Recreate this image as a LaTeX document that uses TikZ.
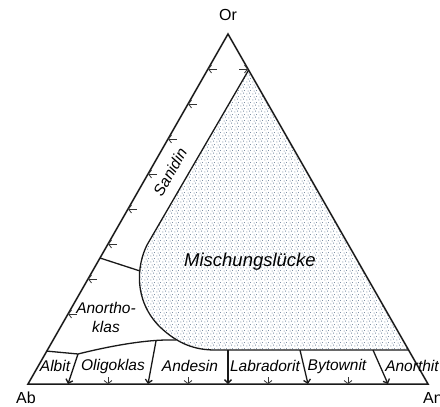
\documentclass[tikz,border=0pt]{standalone}
\usepackage{fontspec}
\setmainfont{Liberation Sans}
\usepackage{xcolor}
\usepackage{tikz}
\usetikzlibrary{arrows.meta,patterns.meta,calc}

\definecolor{dotc}{RGB}{80,105,135}

\tikzdeclarepattern{
  name=stipple,
  type=uncolored,
  bounding box={(0pt,0pt) and (6pt,6pt)},
  tile size={(6pt,6pt)},
  code={
    \pgfpathcircle{\pgfpoint{1pt}{1.2pt}}{0.6pt}
    \pgfpathcircle{\pgfpoint{4.1pt}{2.3pt}}{0.6pt}
    \pgfpathcircle{\pgfpoint{2.4pt}{4.6pt}}{0.6pt}
    \pgfpathcircle{\pgfpoint{5.2pt}{5.3pt}}{0.5pt}
    \pgfusepath{fill}
  }}

\begin{document}
\begin{tikzpicture}[
  x=1pt, y=-1pt,
  side/.style={line width=1.5pt, line join=miter, draw=black!90},
  ln/.style={line width=1.3pt, draw=black!90},
  sep/.style={ln, -{Straight Barb[length=3.5pt,width=7pt]}},
  tk/.style={line width=0.8pt, draw=black!80, -{Straight Barb[length=3pt,width=8pt]}},
  gap/.style={pattern=stipple, pattern color=dotc},
  lbl/.style={font=\fontsize{15.5}{19}\selectfont\itshape, inner sep=1pt, align=center},
  crn/.style={font=\fontsize{16}{18}\selectfont, inner sep=1pt}]

\useasboundingbox (0,0) rectangle (440,407);

% corners of the triangle
\coordinate (Ab) at (28,384);
\coordinate (An) at (428,384);
\coordinate (Or) at (228,34);

% miscibility gap
\coordinate (g1) at ($(Or)!0.103!(An)$);
\coordinate (g2) at (147,245);
\coordinate (g3) at (160,327);
\coordinate (g4) at (215,350);
\coordinate (g5) at ($(Or)!0.903!(An)$);

\fill[gap] (g1) -- (g2) .. controls (137,265) and (133,300) .. (g3)
  .. controls (178,344) and (195,350) .. (g4) -- (g5) -- cycle;
\draw[ln] (g1) -- (g2) .. controls (137,265) and (133,300) .. (g3)
  .. controls (178,344) and (195,350) .. (g4) -- (g5);

\draw[side] (Ab) -- (Or) -- (An) -- cycle;

% field boundaries
\coordinate (s1) at ($(Or)!0.64!(Ab)$);
\coordinate (s2) at (140,271);
\draw[ln] (s1) -- (s2);
\coordinate (k1) at ($(Or)!0.906!(Ab)$);
\coordinate (k2) at (78,354);
\coordinate (k3) at (176,340);
\draw[ln] (k1) -- (k2) .. controls (110,346) and (148,339) .. (k3);

% plagioclase series
\draw[sep] (k2) -- (68,384);
\draw[sep] (156,341) -- (148,384);
\draw[sep] (228,350) -- (228,384);
\draw[sep] (300,350) -- (308,384);
\draw[sep] (373,350) -- (388,384);
\foreach \x in {108,188,268,348} \draw[tk] (\x,377) -- (\x,384);

% tie line marks
\foreach \k in {1,...,8} \draw[tk] ($(Or)!\k/10!(Ab)+(9,0)$) -- ($(Or)!\k/10!(Ab)$);
\draw[tk] ($(Or)!0.1!(An)+(-9,0)$) -- ($(Or)!0.1!(An)$);

% labels
\node[crn] (or) at (228,15) {Or};
\node[crn] (ab) at (26,398) {Ab};
\node[crn] (an) at (433,398) {An};
\node[lbl, font=\fontsize{18.5}{20}\selectfont\itshape] (gapl) at (250,262) {Mischungslücke};
\node[lbl, rotate=60] (san) at (170,172) {Sanidin};
\node[lbl] (ano) at (106,317) {Anortho-\\klas};
\node[lbl] (alb) at (55,366) {Albit};
\node[lbl] (oli) at (113,366) {Oligoklas};
\node[lbl] (and) at (190,366) {Andesin};
\node[lbl] (lab) at (265,366) {Labradorit};
\node[lbl] (byt) at (337,366) {Bytownit};
\node[lbl] (ant) at (412,366) {Anorthit};
\end{tikzpicture}
\end{document}
